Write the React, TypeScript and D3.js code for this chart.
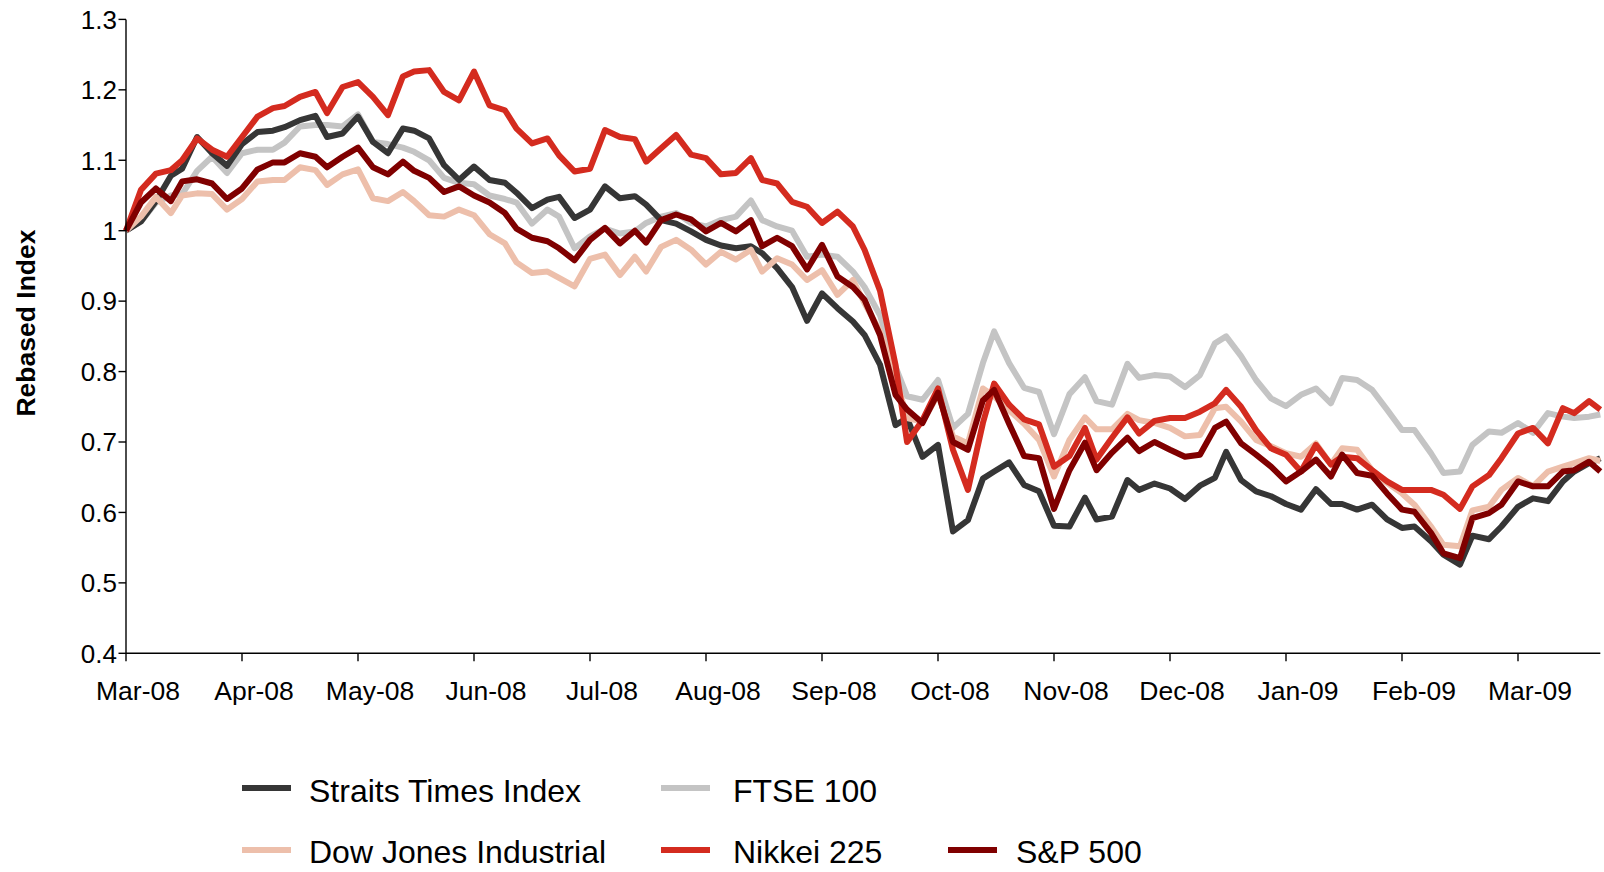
import React from "react";
import * as d3 from "d3";

// Sample dates (x positions: month index + fraction of month, evenly spaced months)
const dates = [
  "2008-03-01","2008-03-05","2008-03-09","2008-03-13","2008-03-16","2008-03-20","2008-03-24","2008-03-28",
  "2008-04-01","2008-04-05","2008-04-09","2008-04-12","2008-04-16","2008-04-20","2008-04-23","2008-04-27",
  "2008-05-01","2008-05-05","2008-05-09","2008-05-13","2008-05-16","2008-05-20","2008-05-24","2008-05-28",
  "2008-06-01","2008-06-05","2008-06-09","2008-06-12","2008-06-16","2008-06-20","2008-06-23","2008-06-27",
  "2008-07-01","2008-07-05","2008-07-09","2008-07-13","2008-07-16","2008-07-20","2008-07-24","2008-07-28",
  "2008-08-01","2008-08-05","2008-08-09","2008-08-13","2008-08-16","2008-08-20","2008-08-24","2008-08-28",
  "2008-09-01","2008-09-05","2008-09-09","2008-09-12","2008-09-16","2008-09-20","2008-09-23","2008-09-27",
  "2008-10-01","2008-10-05","2008-10-09","2008-10-13","2008-10-16","2008-10-20","2008-10-24","2008-10-28",
  "2008-11-01","2008-11-05","2008-11-09","2008-11-12","2008-11-16","2008-11-20","2008-11-23","2008-11-27",
  "2008-12-01","2008-12-05","2008-12-09","2008-12-13","2008-12-16","2008-12-20","2008-12-24","2008-12-28",
  "2009-01-01","2009-01-05","2009-01-09","2009-01-13","2009-01-16","2009-01-20","2009-01-24","2009-01-28",
  "2009-02-01","2009-02-04","2009-02-08","2009-02-11","2009-02-15","2009-02-18","2009-02-22","2009-02-25",
  "2009-03-01","2009-03-05","2009-03-09","2009-03-13","2009-03-16","2009-03-20","2009-03-23",
];

const straits = [
  1.000,1.013,1.042,1.078,1.088,1.133,1.110,1.092,
  1.123,1.140,1.142,1.147,1.157,1.163,1.133,1.138,
  1.162,1.126,1.110,1.145,1.142,1.131,1.093,1.072,
  1.091,1.072,1.068,1.054,1.032,1.044,1.048,1.018,
  1.030,1.063,1.046,1.049,1.037,1.015,1.010,0.999,
  0.987,0.979,0.975,0.978,0.968,0.947,0.920,0.872,
  0.911,0.890,0.871,0.852,0.810,0.724,0.734,0.679,
  0.696,0.573,0.589,0.648,0.658,0.671,0.639,0.630,
  0.581,0.580,0.621,0.590,0.594,0.646,0.632,0.641,
  0.634,0.619,0.638,0.649,0.686,0.646,0.630,0.623,
  0.612,0.604,0.633,0.612,0.612,0.604,0.611,0.590,
  0.578,0.580,0.559,0.540,0.526,0.567,0.562,0.580,
  0.608,0.620,0.616,0.644,0.658,0.670,0.677,
];

const ftse = [
  1.000,1.013,1.040,1.050,1.052,1.085,1.105,1.082,
  1.110,1.115,1.115,1.125,1.148,1.150,1.150,1.148,
  1.165,1.126,1.123,1.118,1.112,1.100,1.075,1.068,
  1.066,1.050,1.045,1.040,1.010,1.030,1.020,0.975,
  0.992,1.003,0.996,0.999,1.011,1.020,1.025,1.011,
  1.006,1.015,1.020,1.043,1.015,1.006,1.000,0.963,
  0.966,0.963,0.942,0.920,0.880,0.807,0.765,0.760,
  0.788,0.720,0.740,0.812,0.857,0.812,0.777,0.771,
  0.711,0.768,0.792,0.758,0.753,0.811,0.791,0.795,
  0.793,0.778,0.795,0.840,0.850,0.822,0.788,0.762,
  0.751,0.767,0.776,0.755,0.791,0.788,0.774,0.746,
  0.717,0.717,0.684,0.656,0.658,0.696,0.715,0.713,
  0.727,0.713,0.741,0.736,0.734,0.736,0.739,
];

const dowJones = [
  1.000,1.020,1.048,1.025,1.050,1.053,1.052,1.030,
  1.045,1.070,1.072,1.072,1.090,1.086,1.065,1.080,
  1.087,1.046,1.042,1.055,1.042,1.022,1.020,1.030,
  1.022,0.995,0.982,0.955,0.940,0.942,0.933,0.921,
  0.960,0.966,0.937,0.963,0.942,0.977,0.987,0.973,
  0.952,0.970,0.959,0.973,0.942,0.961,0.952,0.930,
  0.944,0.909,0.930,0.897,0.857,0.793,0.734,0.729,
  0.767,0.708,0.698,0.776,0.765,0.745,0.726,0.703,
  0.651,0.703,0.735,0.718,0.718,0.740,0.731,0.727,
  0.720,0.708,0.710,0.748,0.750,0.729,0.703,0.694,
  0.684,0.679,0.698,0.668,0.691,0.689,0.660,0.642,
  0.627,0.611,0.580,0.554,0.552,0.603,0.608,0.632,
  0.649,0.637,0.658,0.665,0.670,0.677,0.673,
];

const nikkei = [
  1.000,1.058,1.081,1.086,1.100,1.131,1.115,1.105,
  1.133,1.162,1.174,1.177,1.190,1.197,1.167,1.204,
  1.211,1.190,1.164,1.219,1.226,1.228,1.197,1.185,
  1.226,1.178,1.171,1.145,1.124,1.131,1.107,1.084,
  1.088,1.143,1.133,1.130,1.098,1.117,1.136,1.108,
  1.103,1.080,1.082,1.103,1.072,1.067,1.041,1.034,
  1.011,1.027,1.006,0.973,0.915,0.810,0.700,0.731,
  0.776,0.689,0.632,0.727,0.783,0.753,0.732,0.725,
  0.665,0.680,0.720,0.675,0.706,0.735,0.712,0.730,
  0.734,0.734,0.743,0.755,0.774,0.750,0.717,0.691,
  0.682,0.658,0.696,0.668,0.679,0.677,0.660,0.644,
  0.632,0.632,0.632,0.625,0.605,0.637,0.653,0.677,
  0.712,0.720,0.698,0.748,0.741,0.758,0.746,
];

const sp500 = [
  1.000,1.040,1.060,1.042,1.070,1.073,1.067,1.045,
  1.060,1.087,1.097,1.097,1.110,1.105,1.090,1.105,
  1.118,1.090,1.080,1.098,1.085,1.075,1.055,1.063,
  1.050,1.040,1.025,1.003,0.990,0.985,0.975,0.958,
  0.987,1.004,0.982,1.000,0.983,1.015,1.023,1.016,
  0.999,1.011,0.999,1.015,0.978,0.990,0.978,0.945,
  0.980,0.935,0.920,0.902,0.852,0.767,0.746,0.727,
  0.770,0.700,0.689,0.759,0.774,0.726,0.680,0.677,
  0.605,0.660,0.699,0.660,0.685,0.706,0.687,0.700,
  0.689,0.679,0.682,0.720,0.729,0.698,0.682,0.665,
  0.644,0.658,0.675,0.651,0.682,0.656,0.652,0.627,
  0.604,0.601,0.571,0.542,0.535,0.592,0.599,0.611,
  0.644,0.637,0.637,0.658,0.660,0.672,0.658,
];

const monthLabels = [
  "Mar-08","Apr-08","May-08","Jun-08","Jul-08","Aug-08","Sep-08",
  "Oct-08","Nov-08","Dec-08","Jan-09","Feb-09","Mar-09",
];

const yTicks = [0.4, 0.5, 0.6, 0.7, 0.8, 0.9, 1.0, 1.1, 1.2, 1.3];

const seriesNames = ["Straits Times Index", "FTSE 100", "Dow Jones Industrial", "Nikkei 225", "S&P 500"];
const seriesColors = ["#363636", "#c4c4c4", "#edbfab", "#d42b1f", "#800000"];

function monthPos(s: string): number {
  const [yy, mm, dd] = s.split("-").map(Number);
  const idx = (yy - 2008) * 12 + (mm - 3);
  const dim = new Date(yy, mm, 0).getDate();
  return idx + (dd - 1) / dim;
}

export default function App() {
  const W = 1604, H = 872;
  const x = d3.scaleLinear().domain([0, 12]).range([126, 1518]);
  const y = d3.scaleLinear().domain([0.4, 1.3]).range([653.3, 19.4]);
  const data = [straits, ftse, dowJones, nikkei, sp500];
  const xEnd = x(monthPos(dates[dates.length - 1]));

  const line = d3
    .line<number>()
    .x((_, i) => x(monthPos(dates[i])))
    .y((v) => y(v))
    .curve(d3.curveLinear);

  // drawing order (bottom to top)
  const order = [1, 0, 2, 3, 4];

  const legend = [
    { i: 0, lx: 242, ly: 788, tx: 309, ty: 802 },
    { i: 1, lx: 661, ly: 788, tx: 733, ty: 802 },
    { i: 2, lx: 242, ly: 850, tx: 309, ty: 863 },
    { i: 3, lx: 661, ly: 850, tx: 733, ty: 863 },
    { i: 4, lx: 948, ly: 850, tx: 1016, ty: 863 },
  ];

  const font = "'Liberation Sans', Arial, Helvetica, sans-serif";

  return (
    <div style={{ position: "absolute", left: 0, top: 0 }}>
      <svg width={W} height={H} style={{ display: "block", background: "#fff" }} fontFamily={font}>
        <rect x={0} y={0} width={W} height={H} fill="#fff" />
        {/* series */}
        {order.map((si) => (
          <path
            key={si}
            d={line(data[si]) || ""}
            fill="none"
            stroke={seriesColors[si]}
            strokeWidth={6}
            strokeLinejoin="round"
            strokeLinecap="butt"
          />
        ))}
        {/* y axis */}
        <line x1={126} x2={126} y1={y(1.3)} y2={y(0.4)} stroke="#000" strokeWidth={1.4} />
        {yTicks.map((t) => (
          <g key={t}>
            <line x1={118.5} x2={126} y1={y(t)} y2={y(t)} stroke="#000" strokeWidth={1.4} />
            <text x={117} y={y(t)} dy="0.36em" textAnchor="end" fontSize={26} fill="#000">
              {String(+t.toFixed(1))}
            </text>
          </g>
        ))}
        {/* x axis */}
        <line x1={126} x2={xEnd} y1={y(0.4)} y2={y(0.4)} stroke="#000" strokeWidth={1.4} />
        {monthLabels.map((lab, i) => (
          <g key={lab}>
            <line x1={x(i)} x2={x(i)} y1={y(0.4)} y2={y(0.4) + 8} stroke="#000" strokeWidth={1.4} />
            <text x={x(i) + 12} y={700} textAnchor="middle" fontSize={26.5} fill="#000">
              {lab}
            </text>
          </g>
        ))}
        {/* y title */}
        <text
          transform="translate(35,323) rotate(-90)"
          textAnchor="middle"
          fontSize={26.5}
          fontWeight="bold"
          fill="#000"
        >
          Rebased Index
        </text>
        {/* legend */}
        {legend.map((l) => (
          <g key={l.i}>
            <line x1={l.lx} x2={l.lx + 49} y1={l.ly} y2={l.ly} stroke={seriesColors[l.i]} strokeWidth={6} />
            <text x={l.tx} y={l.ty} fontSize={32} fill="#000">
              {seriesNames[l.i]}
            </text>
          </g>
        ))}
      </svg>
    </div>
  );
}
